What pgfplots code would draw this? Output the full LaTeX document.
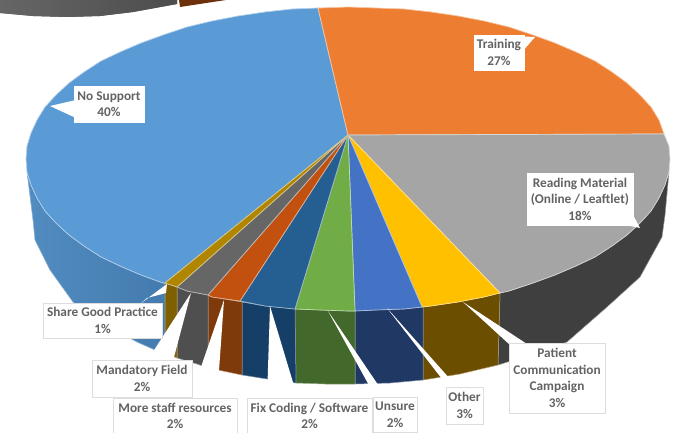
\documentclass[border=0pt]{standalone}
\usepackage{pgfplots}
\pgfplotsset{compat=1.18}
\usepackage{fontspec}
\setmainfont{Carlito}
\definecolor{cNoSupport}{HTML}{5B9BD5}
\definecolor{cTraining}{HTML}{ED7D31}
\definecolor{cReading}{HTML}{A5A5A5}
\definecolor{cCampaign}{HTML}{FFC000}
\definecolor{cOther}{HTML}{4472C4}
\definecolor{cUnsure}{HTML}{70AD47}
\definecolor{cCoding}{HTML}{255E91}
\definecolor{cStaff}{HTML}{C2500F}
\definecolor{cField}{HTML}{666666}
\definecolor{cShare}{HTML}{B08500}
\definecolor{sNoSupport}{HTML}{4A86BE}
\definecolor{sReading}{HTML}{3F3F3F}
\definecolor{sCampaign}{HTML}{6B4E00}
\definecolor{sOther}{HTML}{1F3864}
\definecolor{sUnsure}{HTML}{43682B}
\definecolor{sCoding}{HTML}{163F68}
\definecolor{sStaff}{HTML}{7F3A0C}
\definecolor{sField}{HTML}{4F4F4F}
\definecolor{sShare}{HTML}{7F6000}
\definecolor{labelText}{HTML}{636363}
\definecolor{labelEdge}{HTML}{DDDDDD}
\tikzset{
  face/.style={fill=#1, draw=white!55!#1, line width=0.7pt, line join=round},
  side/.style={fill=#1, draw=white!45!#1, line width=0.5pt, line join=round},
  callout/.style={fill=white, draw=none},
  lab/.style={fill=white, draw=#1, line width=0.4pt, align=center, inner sep=0pt,
    text=labelText, font=\fontsize{13.3}{16.6}\selectfont\bfseries},
  lab/.default=labelEdge
}
\begin{document}
\begin{tikzpicture}
\path[use as bounding box] (0,0) rectangle (677pt,433pt);
\begin{axis}[
  scale only axis, width=677pt, height=433pt,
  xmin=0, xmax=677, ymin=0, ymax=433, y dir=reverse,
  hide axis, clip=true
]
% remnant shapes at the top edge
\addplot[fill=black!68, left color=black!60, right color=black!70, draw=none] coordinates
  {(0,0) (177,0) (177,4) (133,12) (100,16) (67,17) (33,16) (0,13)} -- cycle;
\addplot[fill=sStaff!85!black, draw=none] coordinates {(179,0) (226,0) (180,7)} -- cycle;

% side walls
\addplot[side=sNoSupport, left color=cNoSupport!90!black, right color=sNoSupport!92!black] coordinates
  {(27,172) (31,185) (37,198) (45,211) (56,223) (69,235) (84,246) (101,257) (120,266) (141,275) (163,283) (165,283)
   (165,353) (155,350) (137,342) (100,322) (73,302) (50,270) (35,240) (33,220)} -- cycle;
\addplot[side=sReading] coordinates
  {(669,172) (665,185) (659,198) (651,211) (640,223) (627,235) (612,246) (595,257) (576,266) (555,275) (533,283) (509,291) (500,293)
   (498,365) (530,355) (567,342) (607,307) (640,277) (662,237) (665,215)} -- cycle;
\addplot[side=sCampaign] coordinates
  {(500,293) (484,297) (458,302) (431,306) (423,307) (423,380) (460,374) (498,365)} -- cycle;
\addplot[side=sOther] coordinates
  {(423,307) (404,309) (376,310) (355,311) (355,384) (390,383) (423,380)} -- cycle;
\addplot[side=sUnsure] coordinates
  {(355,311) (348,311) (320,310) (295,309) (296,383) (325,384) (355,384)} -- cycle;
\addplot[side=sCoding] coordinates
  {(295,309) (265,306) (242,302) (242,375) (267,379) (296,383)} -- cycle;
\addplot[side=sStaff] coordinates
  {(242,302) (212,297) (208,295) (208,368) (218,370) (242,375)} -- cycle;
\addplot[side=sField] coordinates
  {(208,295) (187,291) (177,287) (177,358) (197,364) (208,368)} -- cycle;
\addplot[side=sShare] coordinates
  {(177,287) (165,283) (165,353) (177,358)} -- cycle;

% top faces
\addplot[face=cNoSupport] coordinates
  {(348,135) (165,283) (163,283) (141,275) (120,266) (101,257) (84,246) (69,235) (56,223) (45,211) (37,198) (31,185) (27,172) (26,159)
   (27,146) (31,133) (37,120) (45,107) (56,95) (69,83) (84,72) (101,61) (120,52) (141,43) (163,35) (187,27) (212,21) (238,16) (265,12) (292,9) (318,8)} -- cycle;
\addplot[face=cTraining] coordinates
  {(348,135) (318,8) (320,8) (348,7) (376,8) (404,9) (431,12) (458,16) (484,21) (509,27) (533,35) (555,43) (576,52) (595,61) (612,72) (627,83) (640,95) (651,107) (659,120) (664,134)} -- cycle;
\addplot[face=cReading] coordinates
  {(348,135) (664,134) (669,146) (670,159) (669,172) (665,185) (659,198) (651,211) (640,223) (627,235) (612,246) (595,257) (576,266) (555,275) (533,283) (509,291) (500,293)} -- cycle;
\addplot[face=cCampaign] coordinates
  {(348,135) (500,293) (484,297) (458,302) (431,306) (422,307)} -- cycle;
\addplot[face=cOther] coordinates
  {(348,135) (422,307) (404,309) (376,310) (355,311)} -- cycle;
\addplot[face=cUnsure] coordinates
  {(348,135) (355,311) (348,311) (320,310) (295,309)} -- cycle;
\addplot[face=cCoding] coordinates
  {(348,135) (295,309) (265,306) (240,301)} -- cycle;
\addplot[face=cStaff] coordinates
  {(348,135) (240,301) (212,297) (208,295)} -- cycle;
\addplot[face=cField] coordinates
  {(348,135) (208,295) (187,291) (177,287)} -- cycle;
\addplot[face=cShare] coordinates
  {(348,135) (177,287) (165,283)} -- cycle;

% callout pointers
\addplot[callout] coordinates {(50,106) (76,100) (76,118)} -- cycle;
\addplot[callout] coordinates {(535,37) (512,36) (522,52)} -- cycle;
\addplot[callout] coordinates {(640,228) (625,200) (625,225)} -- cycle;
\addplot[callout] coordinates {(167,284) (140,304) (147,298) (166,293)} -- cycle;
\addplot[callout] coordinates {(191,293) (147,361) (173,361)} -- cycle;
\addplot[callout] coordinates {(224,300) (190,399) (217,399)} -- cycle;
\addplot[callout] coordinates {(270,306) (267,399) (298,399)} -- cycle;
\addplot[callout] coordinates {(328,311) (376,398) (387,398)} -- cycle;
\addplot[callout] coordinates {(387,308) (449,388) (458,388)} -- cycle;
\addplot[callout] coordinates {(463,302) (510,345) (527,344)} -- cycle;

% data labels
\node[lab=white, minimum width=70pt, minimum height=36pt] at (axis cs:109,104) {No Support\\40\%};
\node[lab=white, minimum width=50pt, minimum height=35pt] at (axis cs:499,52.5) {Training\\27\%};
\node[lab=white, minimum width=106pt, minimum height=52pt] at (axis cs:580,199) {Reading Material\\(Online / Leaftlet)\\18\%};
\node[lab, minimum width=119pt, minimum height=35pt] at (axis cs:102.5,320.5) {Share Good Practice\\1\%};
\node[lab, minimum width=100pt, minimum height=37pt] at (axis cs:142,378.5) {Mandatory Field\\2\%};
\node[lab, minimum width=124pt, minimum height=36pt] at (axis cs:175,416) {More staff resources\\2\%};
\node[lab, minimum width=125pt, minimum height=36pt] at (axis cs:309.5,416) {Fix Coding / Software\\2\%};
\node[lab, minimum width=44pt, minimum height=35pt] at (axis cs:395,414.5) {Unsure\\2\%};
\node[lab, minimum width=37pt, minimum height=37pt] at (axis cs:464.5,405.5) {Other\\3\%};
\node[lab, minimum width=96pt, minimum height=70pt] at (axis cs:557,378) {Patient\\Communication\\Campaign\\3\%};
\end{axis}
\end{tikzpicture}
\end{document}
